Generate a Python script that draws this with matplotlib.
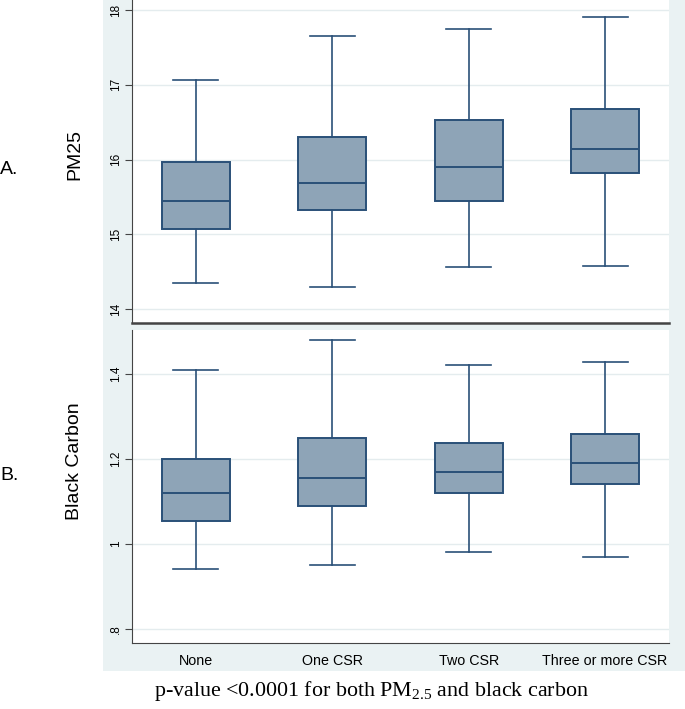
import matplotlib
matplotlib.use("Agg")
import matplotlib.pyplot as plt
from matplotlib.patches import Rectangle

plt.rcParams['font.family'] = ['Liberation Sans', 'DejaVu Sans']
plt.rcParams['mathtext.fontset'] = 'custom'
plt.rcParams['mathtext.rm'] = 'Liberation Serif'

# -------------- data
categories = ["None", "One CSR", "Two CSR", "Three or more CSR"]

pm_whislo = [14.35, 14.29, 14.56, 14.57]
pm_q1     = [15.07, 15.32, 15.45, 15.82]
pm_med    = [15.45, 15.69, 15.90, 16.14]
pm_q3     = [15.97, 16.30, 16.53, 16.68]
pm_whishi = [17.06, 17.65, 17.74, 17.91]

bc_whislo = [0.941, 0.950, 0.980, 0.970]
bc_q1     = [1.054, 1.090, 1.120, 1.140]
bc_med    = [1.120, 1.155, 1.169, 1.190]
bc_q3     = [1.200, 1.249, 1.238, 1.259]
bc_whishi = [1.409, 1.479, 1.420, 1.429]

pm_ticks = [14, 15, 16, 17, 18]
pm_ticklabels = ["14", "15", "16", "17", "18"]
bc_ticks = [0.8, 1.0, 1.2, 1.4]
bc_ticklabels = [".8", "1", "1.2", "1.4"]

# -------------- style
bg = '#eaf2f3'
grid_c = '#e4ecee'
navy = '#2a5078'
fill = '#8ea4b7'
axis_c = '#444444'


def make_stats(lo, q1, med, q3, hi):
    return [dict(whislo=a, q1=b, med=c, q3=d, whishi=e, fliers=[])
            for a, b, c, d, e in zip(lo, q1, med, q3, hi)]


fig = plt.figure(figsize=(6.85, 7.09), dpi=100, facecolor='white')
fig.patches.append(Rectangle((0.150, 0.0536), 0.85, 0.9464, transform=fig.transFigure,
                             facecolor=bg, edgecolor='none', zorder=-5))

ax1 = fig.add_axes([0.1927, 0.5451, 0.7839, 0.4549])
ax2 = fig.add_axes([0.1927, 0.0931, 0.7839, 0.4415])

panels = [
    (ax1, make_stats(pm_whislo, pm_q1, pm_med, pm_q3, pm_whishi), pm_ticks, pm_ticklabels,
     (13.82, 18.134), "PM25", 0.522),
    (ax2, make_stats(bc_whislo, bc_q1, bc_med, bc_q3, bc_whishi), bc_ticks, bc_ticklabels,
     (0.767, 1.5035), "Black Carbon", 0.581),
]

for ax, stats, ticks, ticklabels, ylim, ylab, ly in panels:
    ax.set_facecolor('white')
    ax.bxp(stats, positions=[1, 2, 3, 4], widths=0.5, patch_artist=True,
           showfliers=False,
           boxprops=dict(facecolor=fill, edgecolor=navy, linewidth=1.4),
           medianprops=dict(color=navy, linewidth=1.4),
           whiskerprops=dict(color=navy, linewidth=1.2),
           capprops=dict(color=navy, linewidth=1.2),
           capwidths=0.33)
    ax.set_xlim(0.531, 4.469)
    ax.set_ylim(*ylim)
    ax.set_yticks(ticks)
    ax.set_yticklabels(ticklabels, rotation=90, va='center', fontsize=8.5)
    ax.yaxis.grid(True, color=grid_c, linewidth=1.0)
    ax.set_axisbelow(True)
    for s in ['top', 'right']:
        ax.spines[s].set_visible(False)
    ax.spines['left'].set_color(axis_c)
    ax.spines['bottom'].set_color(axis_c)
    ax.tick_params(axis='y', length=5, width=0.8, color=axis_c, pad=2)
    ax.set_ylabel(ylab, fontsize=14)
    ax.yaxis.set_label_coords(-0.091, ly)

ax1.spines['bottom'].set_linewidth(1.8)
ax1.set_xticks([])
ax2.set_xticks([1, 2, 3, 4])
ax2.set_xticklabels(categories, fontsize=10.3)
ax2.tick_params(axis='x', length=0, pad=8)

fig.text(0.0, 1 - 169 / 709, "A.", fontsize=14, ha='left', va='center')
fig.text(0.0, 1 - 475 / 709, "B.", fontsize=14, ha='left', va='center')

fig.text(0.542, 1 - 691 / 709,
         r"p-value <0.0001 for both PM$_{\mathrm{2.5}}$ and black carbon",
         fontsize=15.8, family='Liberation Serif', ha='center', va='center')

fig.savefig('out.png', dpi=100, facecolor='white')
